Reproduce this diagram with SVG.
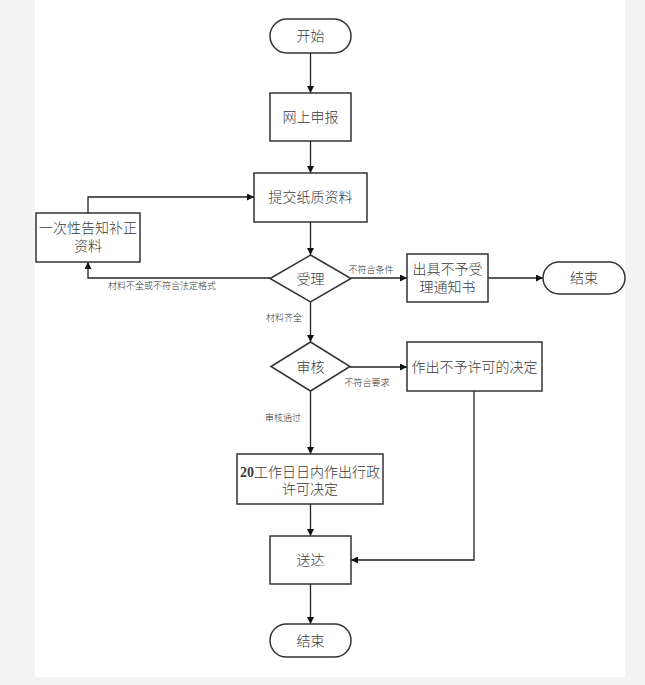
<svg xmlns="http://www.w3.org/2000/svg" width="645" height="685" viewBox="0 0 645 685">
<defs>
<marker id="ah" viewBox="0 0 10 10" refX="10" refY="5" markerWidth="9" markerHeight="7" markerUnits="userSpaceOnUse" orient="auto">
<path d="M0,0 L10,5 L0,10 z" fill="#111"/>
</marker>
<style>
.n{fill:#fff;stroke:#333;stroke-width:1.5}
.t{font-family:"Liberation Serif","Noto Sans CJK SC",serif;font-size:14px;font-weight:300;fill:#3a3a3a;text-anchor:middle}
.s{font-family:"Liberation Serif","Noto Sans CJK SC",serif;font-size:9px;font-weight:300;fill:#333;text-anchor:middle}
.c{fill:none;stroke:#222;stroke-width:1.3}
.a{marker-end:url(#ah)}
</style>
</defs>
<rect x="0" y="0" width="645" height="685" fill="#f4f4f4"/>
<rect x="35" y="0" width="590" height="677" fill="#fff"/>
<g id="connectors">
<line class="c a" x1="310.5" y1="53" x2="310.5" y2="93"/>
<line class="c a" x1="310.5" y1="141" x2="310.5" y2="173"/>
<line class="c a" x1="310.5" y1="222" x2="310.5" y2="255"/>
<polyline class="c a" points="270,278 88,278 88,262"/>
<polyline class="c a" points="88,213 88,197 254,197"/>
<line class="c a" x1="351" y1="278" x2="407" y2="278"/>
<line class="c a" x1="488" y1="278" x2="543" y2="278"/>
<line class="c a" x1="310.5" y1="302" x2="310.5" y2="342"/>
<line class="c a" x1="350" y1="367" x2="407" y2="367"/>
<line class="c a" x1="310.5" y1="391" x2="310.5" y2="454"/>
<line class="c a" x1="310.5" y1="504" x2="310.5" y2="536"/>
<polyline class="c a" points="474,391 474,560 351,560"/>
<line class="c a" x1="310.5" y1="584" x2="310.5" y2="624"/>
<text class="s" x="162" y="289">材料不全或不符合法定格式</text>
<text class="s" x="371" y="273">不符合条件</text>
<text class="s" x="284" y="321">材料齐全</text>
<text class="s" x="367" y="386">不符合要求</text>
<text class="s" x="283" y="421">审核通过</text>
</g>
<g id="start"><rect class="n" x="270" y="19" width="81" height="34" rx="17"/><text class="t" x="310.5" y="41">开始</text></g>
<g id="apply"><rect class="n" x="270" y="93" width="81" height="48"/><text class="t" x="310.5" y="122">网上申报</text></g>
<g id="submit"><rect class="n" x="254" y="173" width="113" height="49"/><text class="t" x="310.5" y="202">提交纸质资料</text></g>
<g id="supplement"><rect class="n" x="36" y="213" width="104" height="49"/><text class="t" x="88" y="233">一次性告知补正</text><text class="t" x="88" y="251">资料</text></g>
<g id="accept"><polygon class="n" points="310.5,255 351,278.5 310.5,302 270,278.5"/><text class="t" x="310.5" y="284">受理</text></g>
<g id="reject-notice"><rect class="n" x="407" y="254" width="81" height="48"/><text class="t" x="447.5" y="274">出具不予受</text><text class="t" x="447.5" y="292">理通知书</text></g>
<g id="end-right"><rect class="n" x="543" y="262" width="82" height="32" rx="16"/><text class="t" x="584" y="283">结束</text></g>
<g id="review"><polygon class="n" points="310.5,342 350,366.5 310.5,391 271,366.5"/><text class="t" x="310.5" y="372">审核</text></g>
<g id="deny"><rect class="n" x="407" y="342" width="135" height="49"/><text class="t" x="474.5" y="372">作出不予许可的决定</text></g>
<g id="decide"><rect class="n" x="237" y="454" width="146" height="50"/><text class="t" x="310" y="477"><tspan font-weight="bold">20</tspan>工作日日内作出行政</text><text class="t" x="310" y="494">许可决定</text></g>
<g id="deliver"><rect class="n" x="270" y="536" width="81" height="48"/><text class="t" x="310.5" y="565">送达</text></g>
<g id="end"><rect class="n" x="270" y="624" width="81" height="33" rx="16.5"/><text class="t" x="310.5" y="646">结束</text></g>
</svg>
